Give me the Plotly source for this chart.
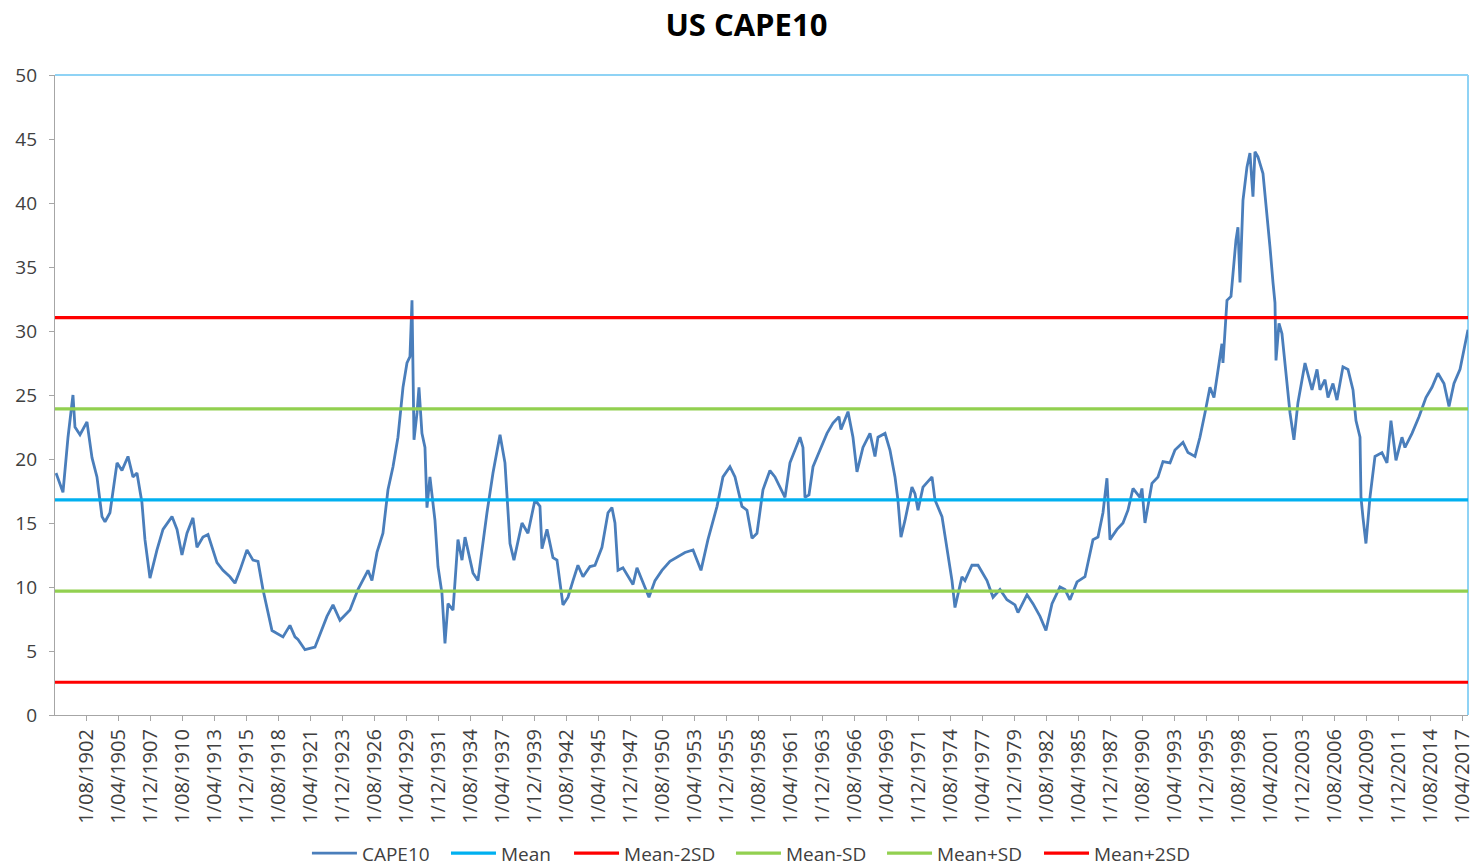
import plotly.graph_objects as go

# ---------------- data ----------------
dates = [
    "1900-01", "1900-08", "1901-01", "1901-06", "1901-08", "1902-01", "1902-08", "1903-01",
    "1903-06", "1903-11", "1904-02", "1904-07", "1905-02", "1905-07", "1906-01", "1906-06",
    "1906-10", "1907-03", "1907-06", "1907-11", "1908-06", "1908-12", "1909-09", "1910-02",
    "1910-07", "1910-12", "1911-06", "1911-10", "1912-04", "1912-09", "1913-06", "1913-12",
    "1914-07", "1914-12", "1915-05", "1915-12", "1916-06", "1916-11", "1917-04", "1918-01",
    "1918-12", "1919-07", "1919-12", "1920-03", "1920-10", "1921-08", "1922-08", "1923-02",
    "1923-09", "1924-07", "1925-03", "1926-01", "1926-05", "1926-10", "1927-04", "1927-09",
    "1928-02", "1928-07", "1928-12", "1929-04", "1929-07", "1929-09", "1929-11", "1930-02",
    "1930-04", "1930-07", "1930-10", "1930-12", "1931-03", "1931-08", "1931-11", "1932-03",
    "1932-06", "1932-09", "1933-02", "1933-07", "1933-11", "1934-02", "1934-10", "1935-03",
    "1935-12", "1936-06", "1937-01", "1937-06", "1937-11", "1938-03", "1938-11", "1939-05",
    "1939-12", "1940-05", "1940-07", "1940-12", "1941-06", "1941-10", "1942-04", "1942-09",
    "1943-02", "1943-07", "1943-12", "1944-07", "1944-12", "1945-07", "1946-01", "1946-05",
    "1946-08", "1946-11", "1947-04", "1947-09", "1948-02", "1948-06", "1948-12", "1949-06",
    "1949-12", "1950-07", "1951-03", "1951-10", "1952-06", "1953-02", "1953-10", "1954-05",
    "1955-02", "1955-08", "1956-03", "1956-08", "1957-03", "1957-08", "1958-01", "1958-06",
    "1958-12", "1959-07", "1959-12", "1960-05", "1960-10", "1961-03", "1961-08", "1962-01",
    "1962-04", "1962-06", "1962-10", "1963-02", "1963-09", "1964-04", "1964-10", "1965-04",
    "1965-06", "1966-01", "1966-06", "1966-10", "1967-04", "1967-11", "1968-04", "1968-07",
    "1969-02", "1969-07", "1969-12", "1970-03", "1970-06", "1970-10", "1971-05", "1971-08",
    "1971-11", "1972-04", "1973-01", "1973-04", "1973-11", "1974-04", "1974-09", "1974-12",
    "1975-07", "1975-10", "1976-05", "1976-11", "1977-08", "1978-02", "1978-09", "1979-04",
    "1979-12", "1980-03", "1980-12", "1981-06", "1982-01", "1982-07", "1983-01", "1983-09",
    "1984-02", "1984-07", "1985-02", "1985-10", "1986-06", "1986-11", "1987-04", "1987-08",
    "1987-11", "1988-06", "1988-12", "1989-05", "1989-10", "1990-05", "1990-07", "1990-10",
    "1991-05", "1991-11", "1992-04", "1992-11", "1993-04", "1993-12", "1994-05", "1994-12",
    "1995-05", "1995-10", "1996-03", "1996-07", "1997-01", "1997-03", "1997-04", "1997-08",
    "1997-12", "1998-05", "1998-07", "1998-09", "1998-12", "1999-04", "1999-07", "1999-10",
    "1999-12", "2000-03", "2000-08", "2000-12", "2001-03", "2001-06", "2001-08", "2001-09",
    "2001-12", "2002-03", "2002-08", "2002-11", "2003-03", "2003-07", "2004-02", "2004-09",
    "2005-02", "2005-05", "2005-10", "2006-01", "2006-06", "2006-10", "2007-04", "2007-09",
    "2008-02", "2008-05", "2008-09", "2008-10", "2008-12", "2009-03", "2009-07", "2009-12",
    "2010-07", "2010-12", "2011-04", "2011-09", "2012-03", "2012-06", "2013-01", "2013-08",
    "2014-03", "2014-09", "2015-03", "2015-09", "2016-02", "2016-07", "2017-01", "2017-08",
    "2017-09",
]

cape10 = [
    18.9, 17.4, 21.7, 25.0, 22.5, 21.9, 22.9, 20.1,
    18.6, 15.5, 15.1, 15.8, 19.7, 19.1, 20.2, 18.6,
    18.9, 16.6, 13.7, 10.7, 12.9, 14.5, 15.5, 14.5,
    12.5, 14.2, 15.4, 13.1, 13.9, 14.1, 11.9, 11.3,
    10.8, 10.3, 11.3, 12.9, 12.1, 12.0, 9.8, 6.6,
    6.1, 7.0, 6.1, 5.9, 5.1, 5.3, 7.7, 8.6,
    7.4, 8.2, 9.8, 11.3, 10.5, 12.7, 14.2, 17.6,
    19.4, 21.7, 25.6, 27.5, 28.0, 32.4, 21.5, 23.6,
    25.6, 22.0, 20.9, 16.2, 18.6, 15.2, 11.6, 9.5,
    5.6, 8.7, 8.2, 13.7, 12.1, 13.9, 11.1, 10.5,
    15.8, 18.9, 21.9, 19.7, 13.4, 12.1, 15.0, 14.2,
    16.8, 16.3, 13.0, 14.5, 12.3, 12.1, 8.6, 9.2,
    10.5, 11.7, 10.8, 11.6, 11.7, 13.1, 15.8, 16.2,
    15.0, 11.3, 11.5, 10.9, 10.2, 11.5, 10.3, 9.2,
    10.5, 11.3, 12.0, 12.3, 12.7, 12.9, 11.3, 13.7,
    16.3, 18.6, 19.4, 18.6, 16.3, 16.0, 13.8, 14.2,
    17.6, 19.1, 18.6, 17.8, 17.0, 19.7, 20.7, 21.7,
    20.9, 17.0, 17.2, 19.4, 20.7, 22.0, 22.8, 23.3,
    22.3, 23.7, 21.7, 19.0, 20.9, 22.0, 20.2, 21.7,
    22.0, 20.7, 18.6, 16.8, 13.9, 15.2, 17.8, 17.3,
    16.0, 17.8, 18.6, 16.8, 15.5, 13.1, 10.5, 8.4,
    10.8, 10.5, 11.7, 11.7, 10.5, 9.2, 9.8, 9.0,
    8.6, 8.0, 9.4, 8.7, 7.7, 6.6, 8.7, 10.0,
    9.8, 9.0, 10.4, 10.8, 13.7, 13.9, 15.8, 18.5,
    13.7, 14.5, 15.0, 16.0, 17.7, 17.0, 17.7, 15.0,
    18.1, 18.6, 19.8, 19.7, 20.7, 21.3, 20.5, 20.2,
    21.7, 23.6, 25.6, 24.8, 28.0, 29.0, 27.5, 32.4,
    32.7, 37.1, 38.1, 33.8, 40.2, 42.8, 43.9, 40.5,
    44.0, 43.6, 42.3, 39.2, 36.6, 33.8, 32.2, 27.7,
    30.6, 29.8, 25.9, 23.6, 21.5, 24.4, 27.5, 25.4,
    27.0, 25.4, 26.2, 24.8, 25.9, 24.6, 27.2, 27.0,
    25.4, 23.0, 21.7, 17.0, 15.4, 13.4, 17.0, 20.2,
    20.5, 19.7, 23.0, 19.9, 21.7, 20.9, 22.0, 23.3,
    24.8, 25.6, 26.7, 25.9, 24.1, 25.9, 27.0, 29.8,
    30.1,
]

band_names = ["Mean", "Mean-2SD", "Mean-SD", "Mean+SD", "Mean+2SD"]
band_values = [16.8, 2.56, 9.68, 23.92, 31.04]
band_colors = ["#00B0F0", "#FF0000", "#92D050", "#92D050", "#FF0000"]

tick_labels = [
    "1/08/1902", "1/04/1905", "1/12/1907", "1/08/1910", "1/04/1913", "1/12/1915",
    "1/08/1918", "1/04/1921", "1/12/1923", "1/08/1926", "1/04/1929", "1/12/1931",
    "1/08/1934", "1/04/1937", "1/12/1939", "1/08/1942", "1/04/1945", "1/12/1947",
    "1/08/1950", "1/04/1953", "1/12/1955", "1/08/1958", "1/04/1961", "1/12/1963",
    "1/08/1966", "1/04/1969", "1/12/1971", "1/08/1974", "1/04/1977", "1/12/1979",
    "1/08/1982", "1/04/1985", "1/12/1987", "1/08/1990", "1/04/1993", "1/12/1995",
    "1/08/1998", "1/04/2001", "1/12/2003", "1/08/2006", "1/04/2009", "1/12/2011",
    "1/08/2014", "1/04/2017",
]

x_range = ["1899-12-01", "2017-09-01"]

# ---------------- figure ----------------
FONT = "Open Sans"
TXT = "#404040"

# legend entry positions (paper x of each entry's left edge)
legend_x = [0.1783, 0.2767, 0.3638, 0.4784, 0.5853, 0.6964]
legend_ids = ["legend", "legend2", "legend3", "legend4", "legend5", "legend6"]

tick_vals = []
for lab in tick_labels:
    d, m, y = lab.split("/")
    tick_vals.append(f"{y}-{m}-{int(d):02d}")

fig = go.Figure()

fig.add_trace(go.Scatter(
    x=dates, y=cape10, mode="lines", name="CAPE10", legend=legend_ids[0],
    line=dict(color="#4A7EBB", width=2.8),
))

for i, (name, val, col) in enumerate(zip(band_names, band_values, band_colors)):
    fig.add_trace(go.Scatter(
        x=x_range, y=[val, val], mode="lines", name=name, legend=legend_ids[i + 1],
        line=dict(color=col, width=3.2),
    ))

legend_layout = {}
for lid, lx in zip(legend_ids, legend_x):
    legend_layout[lid] = dict(
        orientation="h", x=lx, xref="paper", xanchor="left",
        y=-0.216, yref="paper", yanchor="middle",
        font=dict(family=FONT, size=19, color=TXT),
        bgcolor="rgba(0,0,0,0)", itemwidth=45,
    )

fig.update_layout(
    width=1478, height=866,
    paper_bgcolor="white", plot_bgcolor="white",
    margin=dict(l=55, r=10, t=75, b=151, autoexpand=False),
    font=dict(family=FONT, size=19, color=TXT),
    title=dict(
        text="<b>US CAPE10</b>", x=0.505, xref="container", xanchor="center",
        y=0.971, yref="container", yanchor="middle",
        font=dict(family=FONT, size=31, color="#000000"),
    ),
    showlegend=True,
    xaxis=dict(
        type="date", range=x_range,
        tickmode="array", tickvals=tick_vals, ticktext=tick_labels,
        tickangle=-90, ticks="outside", ticklen=5, tickcolor="#A6A6A6",
        showline=True, linecolor="#A6A6A6", linewidth=1.2,
        showgrid=False, zeroline=False, automargin=False,
        tickfont=dict(family=FONT, size=20, color=TXT),
    ),
    yaxis=dict(
        range=[0, 50], dtick=5, tick0=0,
        ticks="outside", ticklen=5, tickcolor="#A6A6A6",
        showline=True, linecolor="#A6A6A6", linewidth=1.2,
        showgrid=False, zeroline=False, automargin=False,
        ticklabelstandoff=8,
        tickfont=dict(family=FONT, size=19, color=TXT),
    ),
    **legend_layout,
)

# light-blue plot-area border on top and right
fig.add_shape(type="line", xref="paper", yref="paper", x0=0, x1=1, y0=1, y1=1,
              line=dict(color="#8FD3F5", width=2), layer="below")
fig.add_shape(type="line", xref="paper", yref="paper", x0=1, x1=1, y0=0, y1=1,
              line=dict(color="#8FD3F5", width=2), layer="below")

fig.write_html("out.html", config={"displayModeBar": False},
               post_script="document.body.style.margin='0px';")
